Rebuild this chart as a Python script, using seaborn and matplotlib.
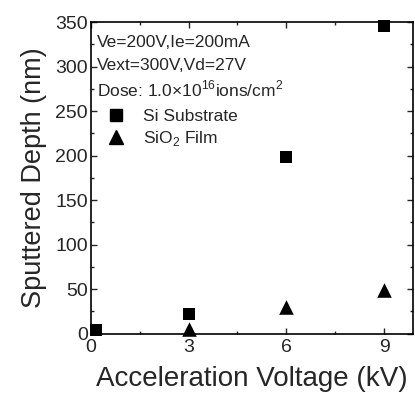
import matplotlib
matplotlib.use("Agg")
import matplotlib.pyplot as plt
import seaborn as sns
import pandas as pd
from matplotlib.ticker import MultipleLocator
from matplotlib.lines import Line2D

# Data
si_voltage = [0.15, 3, 6, 9]
si_depth = [4, 22, 198, 346]
sio2_voltage = [3, 6, 9]
sio2_depth = [5, 30, 49]
series_names = ["Si Substrate", "SiO$_2$ Film"]
x_ticks = [0, 3, 6, 9]
y_ticks = [0, 50, 100, 150, 200, 250, 300, 350]
annotations = ["Ve=200V,Ie=200mA", "Vext=300V,Vd=27V",
               "Dose: 1.0$\\times$10$^{16}$ions/cm$^2$"]

si_df = pd.DataFrame({"Voltage": si_voltage, "Depth": si_depth})
sio2_df = pd.DataFrame({"Voltage": sio2_voltage, "Depth": sio2_depth})

sns.set_style("ticks")
plt.rcParams["font.family"] = ["Liberation Sans", "DejaVu Sans"]
plt.rcParams["mathtext.fontset"] = "custom"
plt.rcParams["mathtext.rm"] = "Liberation Sans"

fig = plt.figure(figsize=(4.15, 3.94), dpi=100)
ax = fig.add_axes([0.219, 0.153, 0.777, 0.791])

sns.scatterplot(data=si_df, x="Voltage", y="Depth", marker="s", color="black",
                s=80, linewidth=0, ax=ax, legend=False, clip_on=False, zorder=3)
sns.scatterplot(data=sio2_df, x="Voltage", y="Depth", marker="^", color="black",
                s=110, linewidth=0, ax=ax, legend=False, clip_on=False, zorder=3)

ax.set_xlim(0, 9.9)
ax.set_ylim(0, 350)
ax.set_xticks(x_ticks)
ax.set_yticks(y_ticks)
ax.xaxis.set_minor_locator(MultipleLocator(1.5))
ax.yaxis.set_minor_locator(MultipleLocator(25))
ax.tick_params(which="both", direction="in", top=True, right=True, labelsize=14)
ax.tick_params(axis="x", pad=4)
ax.tick_params(axis="y", pad=2)
ax.tick_params(which="major", length=4, width=1)
ax.tick_params(which="minor", length=2.5, width=1)
for sp in ax.spines.values():
    sp.set_linewidth(1.2)
    sp.set_color("black")

ax.set_xlabel("Acceleration Voltage (kV)", fontsize=20, labelpad=7)
ax.set_ylabel("Sputtered Depth (nm)", fontsize=19.5, labelpad=6)

ys = [0.935, 0.86, 0.785]
for t, yy in zip(annotations, ys):
    ax.text(0.02, yy, t, transform=ax.transAxes, fontsize=12.5, va="center", ha="left")

handles = [Line2D([], [], marker="s", color="black", linestyle="none", markersize=8),
           Line2D([], [], marker="^", color="black", linestyle="none", markersize=10)]
ax.legend(handles, series_names, loc="upper left", bbox_to_anchor=(0.0, 0.76),
          frameon=False, fontsize=12.5, handletextpad=0.8, labelspacing=0.3,
          borderaxespad=0.3, handlelength=1.5)

fig.savefig("out.png", dpi=100)
